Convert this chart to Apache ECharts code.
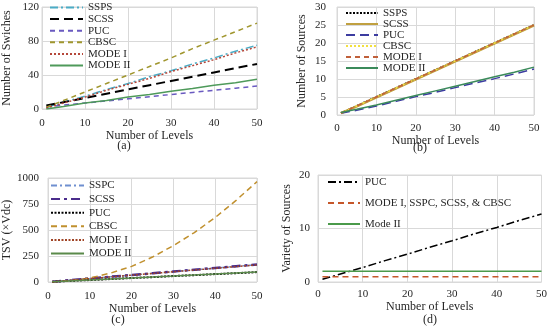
<!DOCTYPE html>
<html><head><meta charset="utf-8">
<script src="https://cdn.jsdelivr.net/npm/echarts@6/dist/echarts.min.js"></script>
<style>html,body{margin:0;padding:0;background:#fff}#c{width:550px;height:331px}</style>
</head><body><div id="c"></div>
<script>
const levels = [1, 5, 10, 15, 20, 25, 30, 35, 40, 45, 50];
const xTicks = [0, 10, 20, 30, 40, 50];
// (a) Number of Switches
const aSSPS  = [2, 8, 15, 23, 30, 38, 45, 53, 60, 68, 75];
const aSCSS  = [4, 8, 13, 18, 23, 28, 33, 38, 43, 48, 53];
const aPUC   = [2.5, 4.5, 7, 9.5, 12, 14.5, 17, 19.5, 22, 24.5, 27];
const aCBSC  = [2, 10, 20, 30, 40, 50, 60, 71, 81, 91, 101];
const aMODE1 = [1, 7, 14, 22, 29, 36, 44, 51, 58, 66, 73];
const aMODE2 = [0, 3, 7, 10, 14, 17, 21, 24, 28, 31, 35];
// (b) Number of Sources
const bSSPS  = [0.5, 2.5, 5, 7.5, 10, 12.5, 15, 17.5, 20, 22.5, 25];
const bSCSS  = [0.5, 2.4, 4.9, 7.4, 9.9, 12.4, 14.9, 17.4, 19.9, 22.4, 24.9];
const bPUC   = [0.5, 1.3, 2.5, 3.8, 5.1, 6.3, 7.6, 8.9, 10.1, 11.4, 12.8];
const bCBSC  = [0.5, 2.5, 5, 7.5, 10, 12.5, 15, 17.5, 20, 22.5, 25];
const bMODE1 = [0.5, 2.5, 5, 7.5, 10, 12.5, 15, 17.5, 20, 22.5, 25];
const bMODE2 = [0.7, 1.6, 2.8, 4.1, 5.4, 6.7, 8.0, 9.3, 10.6, 11.9, 13.3];
// (c) TSV
const cSSPC  = [3, 17, 33, 50, 66, 83, 100, 117, 133, 150, 167];
const cSCSS  = [3, 17, 34, 51, 67, 84, 101, 118, 135, 152, 169];
const cPUC   = [2, 10, 19, 28, 38, 47, 57, 66, 76, 85, 95];
const cCBSC  = [1, 10, 38, 86, 150, 240, 350, 475, 620, 785, 965];
const cMODE1 = [2, 16, 33, 49, 66, 82, 99, 115, 132, 148, 165];
const cMODE2 = [2, 10, 19, 29, 38, 48, 57, 67, 76, 86, 96];
// (d) Variety of Sources
const dPUC   = [0.5, 1.5, 2.7, 4, 5.2, 6.5, 7.7, 9, 10.2, 11.5, 12.7];
const dMODE1 = [1, 1, 1, 1, 1, 1, 1, 1, 1, 1, 1];
const dMODE2 = [2, 2, 2, 2, 2, 2, 2, 2, 2, 2, 2];

const FONT = 'Liberation Serif';
const TXT = '#262626';
const GRIDC = '#d9d9d9';
const pts = v => levels.map((x, i) => [x, v[i]]);

const grids = [
  {left: 40, top: 7, width: 217, height: 102},
  {left: 337, top: 7, width: 197, height: 108},
  {left: 42, top: 178, width: 215, height: 104},
  {left: 318, top: 175, width: 224, height: 107}
];
const yCfg = [
  {max: 120, interval: 40, name: 'Number of Swiches', gap: 29, lm: 3},
  {max: 30, interval: 5, name: 'Number of Sources', gap: 29, lm: 11},
  {max: 1000, interval: 250, name: 'TSV (\u00d7Vdc)', gap: 35, lm: 9},
  {max: 20, interval: 10, name: 'Variety of Sources', gap: 25, lm: 8}
];
const xCfg = [{gap: 21, lm: 9}, {gap: 15, lm: 8}, {gap: 20, lm: 9}, {gap: 19, lm: 7}];

const xAxis = xCfg.map((c, i) => ({
  type: 'value', gridIndex: i, min: 0, max: 50, interval: 10,
  name: 'Number of Levels', nameLocation: 'middle', nameGap: c.gap,
  nameTextStyle: {fontFamily: FONT, fontSize: 12, color: TXT},
  axisLine: {show: false}, axisTick: {show: false},
  axisLabel: {fontFamily: FONT, fontSize: 11, color: TXT, margin: c.lm},
  splitLine: {show: true, lineStyle: {color: GRIDC, width: 1}}
}));
const yAxis = yCfg.map((c, i) => ({
  type: 'value', gridIndex: i, min: 0, max: c.max, interval: c.interval,
  name: c.name, nameLocation: 'middle', nameGap: c.gap, nameRotate: 90,
  nameTextStyle: {fontFamily: FONT, fontSize: 12, color: TXT},
  axisLine: {show: false}, axisTick: {show: false},
  axisLabel: {fontFamily: FONT, fontSize: 11, color: TXT, margin: c.lm, formatter: v => String(v)},
  splitLine: {show: true, lineStyle: {color: GRIDC, width: 1}}
}));

function s(name, g, data, color, type, width) {
  return {
    name: name, type: 'line', xAxisIndex: g, yAxisIndex: g, data: pts(data),
    symbol: 'none', silent: true, animation: false,
    lineStyle: {color: color, type: type, width: width || 1.5},
    itemStyle: {color: color}
  };
}
const DD = [8, 3, 2, 3];
const series = [
  s('SSPS_a', 0, aSSPS, '#4bacc6', DD),
  s('SCSS_a', 0, aSCSS, '#000000', [9, 5], 2),
  s('PUC_a', 0, aPUC, '#6a5ac0', [5, 4]),
  s('CBSC_a', 0, aCBSC, '#a0962e', [5, 4]),
  s('MODE I_a', 0, aMODE1, '#b5473a', [2, 2]),
  s('MODE II_a', 0, aMODE2, '#4e9a5a', 'solid'),

  s('SSPS_b', 1, bSSPS, '#000000', [2, 1.5], 2),
  s('SCSS_b', 1, bSCSS, '#c0a040', 'solid', 2.5),
  s('PUC_b', 1, bPUC, '#3c3ca0', [9, 5]),
  s('CBSC_b', 1, bCBSC, '#f2e040', [2, 2], 1.5),
  s('MODE I_b', 1, bMODE1, '#c0603a', [5, 4]),
  s('MODE II_b', 1, bMODE2, '#3a8a5a', 'solid'),

  s('SSPC_c', 2, cSSPC, '#6f8fd0', [6, 3, 2, 3]),
  s('SCSS_c', 2, cSCSS, '#4a2c8c', [9, 4, 3, 4], 2.5),
  s('PUC_c', 2, cPUC, '#000000', [2, 1.5], 2),
  s('CBSC_c', 2, cCBSC, '#c0902e', [6, 4]),
  s('MODE I_c', 2, cMODE1, '#a04426', [2, 1.5]),
  s('MODE II_c', 2, cMODE2, '#5a8a4a', 'solid'),

  s('PUC_d', 3, dPUC, '#000000', DD),
  s('MODE I, SSPC, SCSS, & CBSC_d', 3, dMODE1, '#c5562a', [6, 4]),
  s('Mode II_d', 3, dMODE2, '#4a9a4a', 'solid')
];

function leg(names, left, top, gap, w, lh) {
  return {
    data: names, orient: 'vertical', left: left, top: top, padding: 0,
    itemWidth: w, itemHeight: 8, itemGap: gap, itemTextGap: 3,
    selectedMode: false,
    itemStyle: {opacity: 0, color: 'rgba(0,0,0,0)', borderWidth: 0},
    formatter: n => n.split('_')[0],
    textStyle: {fontFamily: FONT, fontSize: 11, color: TXT, lineHeight: lh}
  };
}
const legend = [
  leg(['SSPS_a', 'SCSS_a', 'PUC_a', 'CBSC_a', 'MODE I_a', 'MODE II_a'], 49, 2, 0.6, 33, 11),
  leg(['SSPS_b', 'SCSS_b', 'PUC_b', 'CBSC_b', 'MODE I_b', 'MODE II_b'], 345, 7.5, 0, 32, 11),
  leg(['SSPC_c', 'SCSS_c', 'PUC_c', 'CBSC_c', 'MODE I_c', 'MODE II_c'], 50, 179.5, 1.6, 33, 12),
  leg(['PUC_d', 'MODE I, SSPC, SCSS, & CBSC_d', 'Mode II_d'], 327, 176, 9, 32, 12)
];

const labels = [['(a)', 124, 146], ['(b)', 420, 148], ['(c)', 118, 320], ['(d)', 430, 320]];
const graphic = labels.map(l => ({
  type: 'text', x: l[1], y: l[2],
  style: {text: l[0], fill: TXT, font: '12px "' + FONT + '"', textAlign: 'center', textVerticalAlign: 'middle'}
}));

const chart = echarts.init(document.getElementById('c'), null, {renderer: 'canvas'});
chart.setOption({
  animation: false,
  grid: grids.map(g => Object.assign({show: true, borderColor: GRIDC, borderWidth: 1, backgroundColor: 'transparent'}, g)),
  xAxis: xAxis, yAxis: yAxis, series: series, legend: legend, graphic: graphic
});
</script></body></html>
